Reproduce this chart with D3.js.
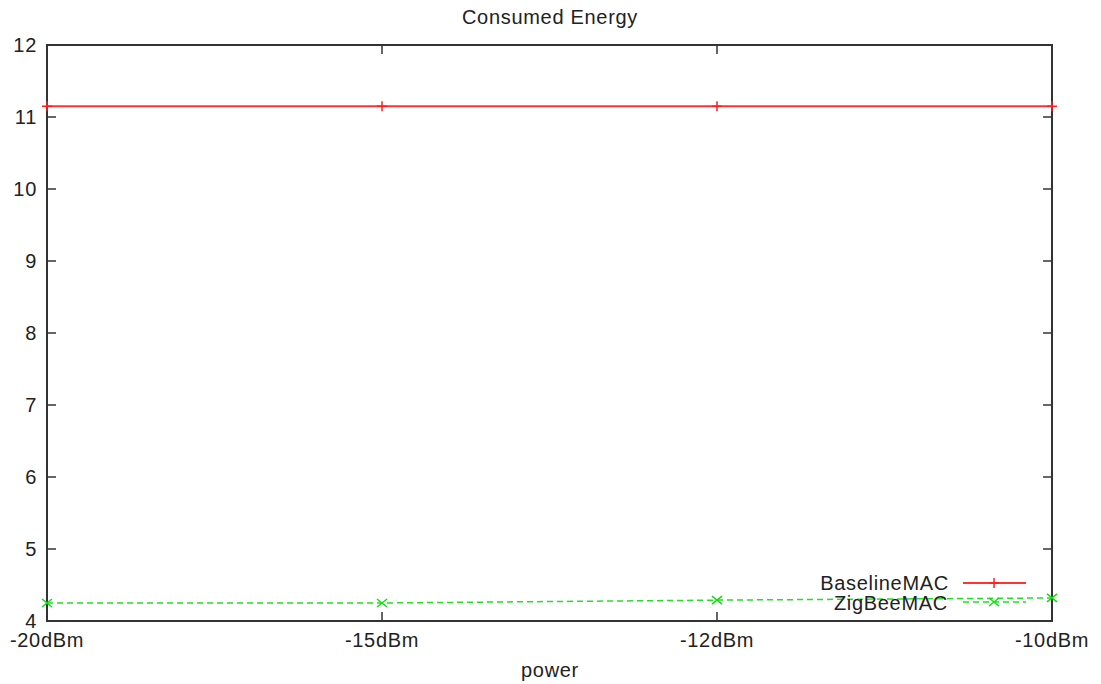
<!DOCTYPE html>
<html>
<head>
<meta charset="utf-8">
<script src="https://cdn.jsdelivr.net/npm/d3@7"></script>
<style>
body { margin: 0; background: #fff; }
text { font-family: "Liberation Sans", Arial, sans-serif; fill: #222; letter-spacing: 0.7px; }
</style>
</head>
<body>
<div class="chart"></div>
<script>
(function() {
var powers = ["-20dBm", "-15dBm", "-12dBm", "-10dBm"];
var baseline = [11.15, 11.15, 11.15, 11.15];
var zigbee = [4.25, 4.25, 4.29, 4.32];
var yTicks = [4, 5, 6, 7, 8, 9, 10, 11, 12];

var margin = {top: 45, right: 49, bottom: 63, left: 47},
    width = 1101 - margin.left - margin.right,
    height = 684 - margin.top - margin.bottom;

var svg = d3.select(".chart").append("svg")
  .attr("width", 1101).attr("height", 684);
var g = svg.append("g").attr("transform", "translate(" + margin.left + "," + margin.top + ")");

var x = d3.scalePoint().domain(powers).range([0, width]);
var y = d3.scaleLinear().domain([4, 12]).range([height, 0]);

// y tick marks, left and right (inside)
g.selectAll(".ytl").data(yTicks).enter().append("line")
  .attr("x1", 0).attr("x2", 9)
  .attr("y1", function(d) { return y(d); }).attr("y2", function(d) { return y(d); })
  .style("stroke", "#333").style("stroke-width", 1.5);
g.selectAll(".ytr").data(yTicks).enter().append("line")
  .attr("x1", width - 9).attr("x2", width)
  .attr("y1", function(d) { return y(d); }).attr("y2", function(d) { return y(d); })
  .style("stroke", "#333").style("stroke-width", 1.5);
g.selectAll(".ylab").data(yTicks).enter().append("text")
  .attr("x", -10).attr("y", function(d) { return y(d) + 7; })
  .attr("text-anchor", "end").style("font-size", "20px")
  .text(function(d) { return d; });

// x tick marks, bottom and top
g.selectAll(".xtb").data(powers).enter().append("line")
  .attr("x1", function(d) { return x(d); }).attr("x2", function(d) { return x(d); })
  .attr("y1", height).attr("y2", height - 9)
  .style("stroke", "#333").style("stroke-width", 1.5);
g.selectAll(".xtt").data(powers).enter().append("line")
  .attr("x1", function(d) { return x(d); }).attr("x2", function(d) { return x(d); })
  .attr("y1", 0).attr("y2", 9)
  .style("stroke", "#333").style("stroke-width", 1.5);
g.selectAll(".xlab").data(powers).enter().append("text")
  .attr("x", function(d) { return x(d); }).attr("y", height + 26)
  .attr("text-anchor", "middle").style("font-size", "20px")
  .text(function(d) { return d; });

// frame
g.append("rect").attr("width", width).attr("height", height)
  .style("fill", "none").style("stroke", "#333").style("stroke-width", 2);

var line = d3.line()
  .x(function(d, i) { return x(powers[i]); })
  .y(function(d) { return y(d); });

g.append("path").datum(baseline).attr("d", line)
  .style("fill", "none").style("stroke", "#ff3333").style("stroke-width", 2);
g.append("path").datum(zigbee).attr("d", line)
  .style("fill", "none").style("stroke", "#22e022").style("stroke-width", 1.5)
  .style("stroke-dasharray", "6,4");

function plus(sel, cx, cy, color) {
  sel.append("path").attr("d", "M" + (cx - 5) + "," + cy + "H" + (cx + 5) + "M" + cx + "," + (cy - 5) + "V" + (cy + 5))
    .style("stroke", color).style("stroke-width", 1.5);
}
function cross(sel, cx, cy, color) {
  sel.append("path").attr("d", "M" + (cx - 5) + "," + (cy - 4) + "L" + (cx + 5) + "," + (cy + 4) + "M" + (cx - 5) + "," + (cy + 4) + "L" + (cx + 5) + "," + (cy - 4))
    .style("stroke", color).style("stroke-width", 1.5);
}
baseline.forEach(function(d, i) { plus(g, x(powers[i]), y(d), "#ff2020"); });
zigbee.forEach(function(d, i) { cross(g, x(powers[i]), y(d), "#11dd11"); });

// legend
var lg = svg.append("g");
lg.append("text").attr("x", 949).attr("y", 590).attr("text-anchor", "end")
  .style("font-size", "20px").text("BaselineMAC");
lg.append("line").attr("x1", 963).attr("x2", 1026).attr("y1", 583).attr("y2", 583)
  .style("stroke", "#ff3333").style("stroke-width", 2);
plus(lg, 994, 583, "#ff2020");
lg.append("text").attr("x", 948).attr("y", 610).attr("text-anchor", "end")
  .style("font-size", "20px").text("ZigBeeMAC");
lg.append("line").attr("x1", 963).attr("x2", 1026).attr("y1", 602).attr("y2", 602)
  .style("stroke", "#22e022").style("stroke-width", 1.5).style("stroke-dasharray", "6,4");
cross(lg, 994, 602, "#11dd11");

// title and axis label
svg.append("text").attr("x", 550).attr("y", 24).attr("text-anchor", "middle")
  .style("font-size", "20px").text("Consumed Energy");
svg.append("text").attr("x", 550).attr("y", 677).attr("text-anchor", "middle")
  .style("font-size", "20px").text("power");
})()
</script>
</body>
</html>
